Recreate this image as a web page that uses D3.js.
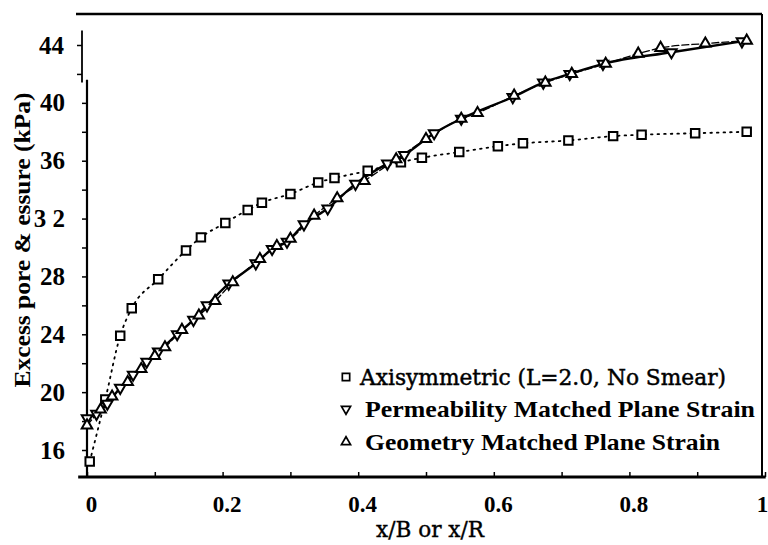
<!DOCTYPE html>
<html>
<head>
<meta charset="utf-8">
<script src="https://cdn.jsdelivr.net/npm/d3@7/dist/d3.min.js"></script>
<style>
  body { margin: 0; background: #fff; }
  svg { display: block; }
  .tk text { font-family: 'Liberation Serif', serif; font-weight: bold; fill: #000; }
  .tkx text { font-size: 23px; }
  .tky text { font-size: 25px; }
</style>
</head>
<body>
<svg id="chart" width="768" height="545"></svg>
<script>
'use strict';

// axisymmetric (L=2.0, no smear) -- squares, dotted
const axiX = [0.004, 0.027, 0.049, 0.066, 0.105, 0.146, 0.168, 0.204, 0.237, 0.258, 0.300, 0.341,
    0.365, 0.414, 0.463, 0.494, 0.549, 0.606, 0.643, 0.710, 0.776, 0.818, 0.897, 0.973];
const axiP = [15.2, 19.5, 23.9, 25.8, 27.8, 29.8, 30.7, 31.7, 32.6, 33.1, 33.7, 34.5,
    34.8, 35.3, 35.9, 36.2, 36.6, 37.0, 37.2, 37.4, 37.7, 37.8, 37.9, 38.0];

// permeability matched plane strain -- down triangles, solid
const permX = [0, 0.014, 0.03, 0.049, 0.068, 0.088, 0.105, 0.133, 0.157, 0.177, 0.209, 0.249, 0.273,
    0.295, 0.32, 0.355, 0.396, 0.443, 0.468, 0.512, 0.552, 0.628, 0.673, 0.712, 0.761, 0.862, 0.966];
const permP = [18.2, 18.5, 19.2, 20.3, 21.2, 22.1, 22.8, 24.0, 25.0, 26.0, 27.5, 28.9, 29.9,
    30.4, 31.6, 32.7, 34.4, 35.8, 36.4, 37.9, 38.9, 40.4, 41.4, 42.0, 42.7, 43.5, 44.25];

// geometry matched plane strain -- up triangles, dashed
const geomX = [0, 0.02, 0.037, 0.06, 0.08, 0.1, 0.115, 0.14, 0.165, 0.189, 0.215, 0.255, 0.28, 0.3,
    0.335, 0.369, 0.409, 0.456, 0.5, 0.552, 0.576, 0.63, 0.676, 0.715, 0.765, 0.813, 0.846, 0.912, 0.973];
const geomP = [17.7, 18.8, 19.7, 20.7, 21.6, 22.5, 23.1, 24.3, 25.3, 26.3, 27.6, 29.2, 30.1, 30.6,
    32.2, 33.4, 34.6, 36.1, 37.5, 38.9, 39.3, 40.5, 41.4, 42.0, 42.7, 43.4, 43.8, 44.1, 44.3];

const xTicks = [0, 0.1, 0.2, 0.3, 0.4, 0.5, 0.6, 0.7, 0.8, 0.9, 1];
const xTickLabels = ['0', '', '0.2', '', '0.4', '', '0.6', '', '0.8', '', '1'];
const yTicksLow = [16, 18, 20, 22, 24, 26, 28, 30, 32, 34, 36, 38, 40];
const yTicksHigh = [42, 44];
const yTickLabels = {16: '16', 20: '20', 24: '24', 28: '28', 32: '3 2', 36: '36', 40: '40', 44: '44'};
const legendLabels = ['Axisymmetric (L=2.0, No Smear)', 'Permeability  Matched  Plane  Strain',
    'Geometry  Matched  Plane  Strain'];

const zip = (xs, ps) => xs.map((x, i) => ({x: x, p: ps[i]}));
const series = [
    {name: legendLabels[0], data: zip(axiX, axiP), sym: d3.symbolSquare, size: 72, rot: 0,
        dash: '1.6,5', width: 1.8},
    {name: legendLabels[1], data: zip(permX, permP), sym: d3.symbolTriangle, size: 48, rot: 180,
        dash: null, width: 2.4},
    {name: legendLabels[2], data: zip(geomX, geomP), sym: d3.symbolTriangle, size: 48, rot: 0,
        dash: '7,3', width: 1.3}
];

const svg = d3.select('#chart');
const x = d3.scaleLinear().domain([0, 1]).range([87, 765]);
const y = d3.scaleLinear().domain([16, 44]).range([450, 45]);

// frame lines (scanned figure: top rule, right rule, heavy base)
svg.append('line').attr('x1', 76).attr('x2', 762).attr('y1', 14).attr('y2', 14)
    .attr('stroke', '#000').attr('stroke-width', 2.5);
svg.append('line').attr('x1', 762).attr('x2', 762).attr('y1', 14).attr('y2', 478)
    .attr('stroke', '#000').attr('stroke-width', 2);

// x axis
const xAxis = d3.axisBottom(x).tickValues(xTicks)
    .tickFormat((d, i) => xTickLabels[i])
    .tickSizeInner(-5).tickSizeOuter(0).tickPadding(19);
const gx = svg.append('g').attr('class', 'tk tkx').attr('transform', 'translate(0,477)').call(xAxis);
gx.select('.domain').remove();
gx.selectAll('.tick line').attr('stroke-width', 1.5);
gx.selectAll('.tick text').attr('dx', d => d === 1 ? -3 : 4);
svg.append('line').attr('x1', x(-0.013)).attr('x2', x(1.001)).attr('y1', 477).attr('y2', 477)
    .attr('stroke', '#000').attr('stroke-width', 3);

// y axis, lower part
const yAxisLow = d3.axisLeft(y).tickValues(yTicksLow)
    .tickFormat(d => yTickLabels[d] || '').tickSizeInner(5).tickSizeOuter(0).tickPadding(17);
const gyl = svg.append('g').attr('class', 'tk tky').attr('transform', 'translate(87,0)').call(yAxisLow);
gyl.select('.domain').remove();
gyl.selectAll('.tick line').attr('stroke-width', 1.5);
svg.append('line').attr('x1', 87).attr('x2', 87).attr('y1', y(41.6)).attr('y2', 478)
    .attr('stroke', '#000').attr('stroke-width', 2.2);

// y axis, upper part (offset in the scan)
const yAxisHigh = d3.axisLeft(y).tickValues(yTicksHigh)
    .tickFormat(d => yTickLabels[d] || '').tickSizeInner(5).tickSizeOuter(0).tickPadding(13);
const gyh = svg.append('g').attr('class', 'tk tky').attr('transform', 'translate(82,0)').call(yAxisHigh);
gyh.select('.domain').remove();
gyh.selectAll('.tick line').attr('stroke-width', 1.5);
svg.append('line').attr('x1', 82).attr('x2', 82).attr('y1', y(45.0)).attr('y2', y(41.4))
    .attr('stroke', '#000').attr('stroke-width', 1.8);

// axis titles
svg.append('text')
    .attr('x', 430).attr('y', 537)
    .attr('text-anchor', 'middle')
    .attr('textLength', 108).attr('lengthAdjust', 'spacingAndGlyphs')
    .style('font-family', '"DejaVu Serif", serif').style('font-size', '23px')
    .style('stroke', '#000').style('stroke-width', 0.4)
    .text('x/B or x/R');

svg.append('text')
    .attr('transform', 'translate(30,240) rotate(-90)')
    .attr('text-anchor', 'middle')
    .attr('textLength', 295).attr('lengthAdjust', 'spacingAndGlyphs')
    .style('font-family', '"Liberation Serif", serif').style('font-weight', 'bold').style('font-size', '24px')
    .text('Excess pore & essure (kPa)');

// curves
const line = d3.line().x(d => x(d.x)).y(d => y(d.p)).curve(d3.curveMonotoneX);
series.forEach((s) => {
    svg.append('path')
        .datum(s.data)
        .attr('d', line)
        .attr('fill', 'none')
        .attr('stroke', '#000')
        .attr('stroke-width', s.width)
        .attr('stroke-linecap', s.dash ? 'round' : 'butt')
        .attr('stroke-dasharray', s.dash);
});

// markers
series.forEach((s) => {
    svg.selectAll(null)
        .data(s.data)
        .enter()
        .append('path')
        .attr('d', d3.symbol().type(s.sym).size(s.size))
        .attr('transform', d => 'translate(' + x(d.x) + ',' + y(d.p) + ') rotate(' + s.rot + ')')
        .attr('fill', '#fff')
        .attr('stroke', '#000')
        .attr('stroke-width', 2);
});

// legend
const legendRows = [377, 409, 442];
const legendTextX = [360, 365, 365];
const legendLen = [366, 390, 355];
series.forEach((s, i) => {
    svg.append('path')
        .attr('d', d3.symbol().type(s.sym).size(s.size * 0.75))
        .attr('transform', 'translate(346,' + legendRows[i] + ') rotate(' + s.rot + ')')
        .attr('fill', '#fff').attr('stroke', '#000').attr('stroke-width', 1.7);
    svg.append('text')
        .attr('x', legendTextX[i]).attr('y', legendRows[i] + 8)
        .attr('textLength', legendLen[i]).attr('lengthAdjust', 'spacingAndGlyphs')
        .style('font-family', i === 0 ? '"DejaVu Serif", serif' : '"Liberation Serif", serif')
        .style('font-weight', i === 0 ? 'normal' : 'bold')
        .style('stroke', i === 0 ? '#000' : 'none').style('stroke-width', 0.5)
        .style('font-size', i === 0 ? '23px' : '24px')
        .text(s.name);
});
</script>
</body>
</html>
